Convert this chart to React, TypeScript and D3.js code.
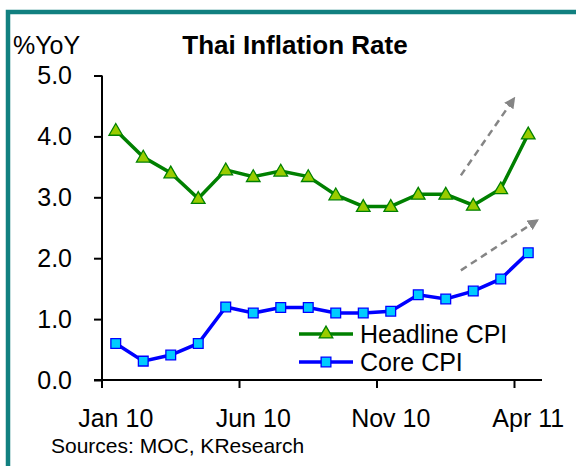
import React, {useEffect, useRef} from 'react';
import * as d3 from "d3"

const months = ["Jan 10", "Feb 10", "Mar 10", "Apr 10", "May 10", "Jun 10", "Jul 10", "Aug 10",
    "Sep 10", "Oct 10", "Nov 10", "Dec 10", "Jan 11", "Feb 11", "Mar 11", "Apr 11"]
const headlineCPI = [4.1, 3.66, 3.4, 2.98, 3.45, 3.34, 3.43, 3.34, 3.04, 2.85, 2.85, 3.05, 3.05, 2.87, 3.14, 4.04]
const coreCPI = [0.6, 0.31, 0.41, 0.6, 1.2, 1.1, 1.19, 1.19, 1.1, 1.1, 1.13, 1.4, 1.33, 1.46, 1.66, 2.09]
const yTicks = [0, 1, 2, 3, 4, 5]
const labelledMonths = ["Jan 10", "Jun 10", "Nov 10", "Apr 11"]
// trend arrows as [fromIndex, fromValue, toIndex, toValue]
const trendArrows = [[12.55, 3.36, 14.48, 4.62], [12.55, 1.8, 15.32, 2.62]]

const App = () => {
    const svgRef = useRef(null)
    const width = 576
    const height = 466

    useEffect(() => {
        const svg = d3.select(svgRef.current)
        svg.selectAll("*").remove()
        const font = "'Liberation Sans', Arial, sans-serif"

        const xScale = d3.scaleBand().domain(months).range([102, 542])
        const xPos = d => xScale(d) + xScale.bandwidth() / 2
        const xIdx = i => xScale(months[0]) + xScale.bandwidth() * (i + 0.5)
        const yScale = d3.scaleLinear().domain([0, 5]).range([380, 75.5])

        // frame
        svg.append("path")
            .attr("d", `M8,466 V12 H576`)
            .attr("fill", "none")
            .attr("stroke", "#118080")
            .attr("stroke-width", 4.5)

        svg.append("text").text("%YoY")
            .attr("x", 13).attr("y", 54)
            .attr("font-family", font).attr("font-size", 25)
        svg.append("text").text("Thai Inflation Rate")
            .attr("x", 295).attr("y", 54).attr("text-anchor", "middle")
            .attr("font-family", font).attr("font-size", 26).attr("font-weight", "bold")

        // y axis
        const yAxis = d3.axisLeft(yScale).tickValues(yTicks).tickSize(8).tickPadding(22)
            .tickFormat(d3.format(".1f"))
        const gy = svg.append("g").attr("transform", "translate(102,0)").call(yAxis)
        gy.select(".domain").attr("d", "M0,75.5 V388").attr("stroke", "#000").attr("stroke-width", 2)
        gy.selectAll(".tick line").attr("stroke-width", 2)
        gy.selectAll("text").attr("font-family", font).attr("font-size", 25).attr("fill", "#000")

        // x axis: ticks on band edges every 5 months
        const gx = svg.append("g")
        gx.append("line").attr("x1", 94).attr("x2", 542).attr("y1", yScale(0)).attr("y2", yScale(0))
            .attr("stroke", "#000").attr("stroke-width", 2)
        gx.selectAll(".xtick").data(labelledMonths).join("line")
            .attr("x1", d => xScale(d)).attr("x2", d => xScale(d))
            .attr("y1", yScale(0)).attr("y2", yScale(0) + 8)
            .attr("stroke", "#000").attr("stroke-width", 2)
        gx.selectAll(".xlabel").data(labelledMonths).join("text")
            .attr("x", d => xPos(d)).attr("y", 427)
            .attr("text-anchor", "middle")
            .attr("font-family", font).attr("font-size", 25)
            .text(d => d)

        // trend arrows
        svg.append("defs").append("marker")
            .attr("id", "arrowHead").attr("viewBox", "0 0 10 10")
            .attr("refX", 8).attr("refY", 5)
            .attr("markerWidth", 4.5).attr("markerHeight", 4.5)
            .attr("orient", "auto")
            .append("path").attr("d", "M0,0 L10,5 L0,10 Z").attr("fill", "#858585")
        svg.selectAll(".trend").data(trendArrows).join("line")
            .attr("x1", d => xIdx(d[0])).attr("y1", d => yScale(d[1]))
            .attr("x2", d => xIdx(d[2])).attr("y2", d => yScale(d[3]))
            .attr("stroke", "#858585").attr("stroke-width", 2.5)
            .attr("stroke-dasharray", "7,5")
            .attr("marker-end", "url(#arrowHead)")

        const line = d3.line().x((d, i) => xIdx(i)).y(d => yScale(d))

        const tri = d3.symbol().type(d3.symbolTriangle).size(80)
        const sq = d3.symbol().type(d3.symbolSquare).size(95)

        // headline
        svg.append("path").datum(headlineCPI).attr("d", line)
            .attr("fill", "none").attr("stroke", "#008000").attr("stroke-width", 3.5)
        svg.selectAll(".headPt").data(headlineCPI).join("path")
            .attr("d", tri)
            .attr("transform", (d, i) => `translate(${xIdx(i)},${yScale(d) + 1})`)
            .attr("fill", "#99CC00").attr("stroke", "#008000").attr("stroke-width", 1.3)

        // core
        svg.append("path").datum(coreCPI).attr("d", line)
            .attr("fill", "none").attr("stroke", "#0000FF").attr("stroke-width", 3.5)
        svg.selectAll(".corePt").data(coreCPI).join("path")
            .attr("d", sq)
            .attr("transform", (d, i) => `translate(${xIdx(i)},${yScale(d)})`)
            .attr("fill", "#00CCFF").attr("stroke", "#0000FF").attr("stroke-width", 1.3)

        // legend
        const legend = [
            {name: "Headline CPI", color: "#008000", fill: "#99CC00", sym: tri, y: 334},
            {name: "Core CPI", color: "#0000FF", fill: "#00CCFF", sym: sq, y: 362},
        ]
        const lg = svg.append("g")
        legend.forEach(l => {
            lg.append("line").attr("x1", 299).attr("x2", 353).attr("y1", l.y).attr("y2", l.y)
                .attr("stroke", l.color).attr("stroke-width", 3.5)
            lg.append("path").attr("d", l.sym)
                .attr("transform", `translate(326,${l.y})`)
                .attr("fill", l.fill).attr("stroke", l.color).attr("stroke-width", 1.3)
            lg.append("text").text(l.name)
                .attr("x", 360).attr("y", l.y + 9)
                .attr("font-family", font).attr("font-size", 25)
        })

        svg.append("text").text("Sources: MOC, KResearch")
            .attr("x", 51).attr("y", 453)
            .attr("font-family", font).attr("font-size", 21)
    }, [])

    return (
        <svg ref={svgRef} width={width} height={height}
             style={{position: "absolute", left: 0, top: 0, background: "#fff"}}>
        </svg>
    );
};

export default App;
